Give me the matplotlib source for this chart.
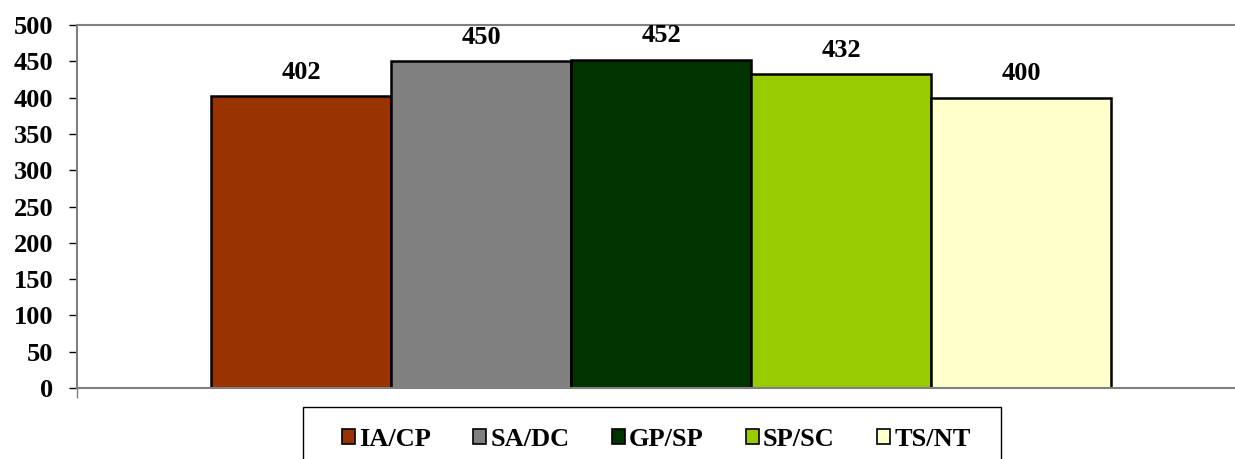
import numpy as np
import matplotlib.pyplot as plt
from matplotlib.patches import Patch, Rectangle

plt.rcParams['font.family'] = ['Liberation Serif', 'DejaVu Serif']
plt.rcParams['font.weight'] = 'bold'

series = ['IA/CP', 'SA/DC', 'GP/SP', 'SP/SC', 'TS/NT']
values = [402, 450, 452, 432, 400]
colors = ['#993300', '#808080', '#003300', '#99CC00', '#FFFFCC']

W, H = 1235, 459
fig = plt.figure(figsize=(W / 100, H / 100), dpi=100)
# plot area runs a little past the right edge of the figure
ax = fig.add_axes([77 / W, 1 - 388 / H, (1245 - 77) / W, (388 - 25) / H])

bw = 180 / 1168
x = (np.arange(len(values)) - 2) * bw
bars = ax.bar(x, values, width=bw, color=colors, edgecolor='black', linewidth=1.8)

for xi, v in zip(x, values):
    ax.annotate(str(v), (xi, v), xytext=(0, 9), textcoords='offset points',
                ha='center', va='bottom', fontsize=19, fontweight='bold')

ax.set_xlim(-0.5, 0.5)
ax.set_ylim(0, 500)
ax.set_yticks(np.arange(0, 501, 50))
ax.set_xticks([-0.5])
ax.set_xticklabels([''])
ax.tick_params(axis='y', direction='out', length=6, width=1, labelsize=19, pad=11, color='black')
ax.tick_params(axis='x', direction='out', length=7, width=1, color='#808080')
for lbl in ax.get_yticklabels():
    lbl.set_fontweight('bold')

for s in ['left', 'bottom', 'top', 'right']:
    ax.spines[s].set_color('#808080')
    ax.spines[s].set_linewidth(1.5)

# legend box, its lower edge falls below the figure
fig.patches.append(Rectangle((303 / W, -20 / H), (1001 - 303) / W, (459 - 407 + 20) / H,
                             transform=fig.transFigure, facecolor='white',
                             edgecolor='black', linewidth=1.0))

handles = [Patch(facecolor=c, edgecolor='black', linewidth=1.2) for c in colors]
leg = fig.legend(handles, series, loc='upper left', ncol=5,
                 bbox_to_anchor=(342 / W, 1 - 428 / H), frameon=False,
                 prop={'size': 19, 'weight': 'bold'}, handlelength=0.5, handleheight=0.5,
                 handletextpad=0.15, columnspacing=1.6, borderpad=0, borderaxespad=0)

fig.savefig('out.png', dpi=100)
